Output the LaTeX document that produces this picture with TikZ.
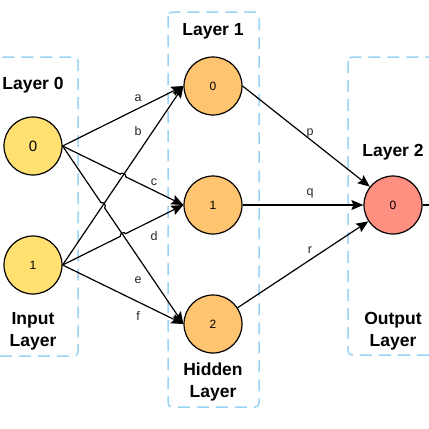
\documentclass[tikz,border=0pt]{standalone}
\usepackage{fontspec}
\setmainfont{Liberation Sans}
\usetikzlibrary{calc,arrows.meta,intersections}
\definecolor{inputfill}{HTML}{FFE070}
\definecolor{hiddenfill}{HTML}{FFC470}
\definecolor{outputfill}{HTML}{FF8F80}
\definecolor{boxblue}{HTML}{99D3F5}
\tikzset{
      neuron/.style={circle, draw=black, line width=1.2pt, minimum size=58pt, inner sep=0pt,
                  font=\fontsize{12}{14}\selectfont},
      layerbox/.style={draw=boxblue, line width=1.5pt, dash pattern=on 12pt off 7pt, rounded corners=4pt},
      layertitle/.style={font=\fontsize{17.5}{22}\selectfont\bfseries, align=center},
      conn/.style={line width=1.2pt, -{Stealth[length=12pt,width=10pt,inset=2pt]}},
      wlabel/.style={font=\fontsize{12.5}{14}\selectfont, text=black!85},
      hop/.style={bend left=90, looseness=1.2}
}

\begin{document}
\begin{tikzpicture}[x=1pt, y=-1pt]
                  \useasboundingbox (0, 0) rectangle (429, 429);
                  \clip (0, 0) rectangle (429, 429);
                  % dashed boxes round the layers
                  \draw [layerbox] (-30, 57) rectangle (78, 356);
                  \draw [layerbox] (168, 12) rectangle (259, 407);
                  \draw [layerbox] (348, 57) rectangle (470, 355);
                  % titles
                  \node (t0) at (33, 85) [layertitle] {Layer 0};
                  \node (n0) at (33, 331) [layertitle] {Input\\Layer};
                  \node (t1) at (213, 31) [layertitle] {Layer 1};
                  \node (n1) at (213, 382) [layertitle] {Hidden\\Layer};
                  \node (t2) at (393, 152) [layertitle] {Layer 2};
                  \node (n2) at (393, 331) [layertitle] {Output\\Layer};
                  % neurons
                  \node (in0) at (33, 146) [neuron, fill=inputfill, font=\fontsize{15}{18}\selectfont] {0};
                  \node (in1) at (33, 265) [neuron, fill=inputfill] {1};
                  \node (hid0) at (213, 86) [neuron, fill=hiddenfill] {0};
                  \node (hid1) at (213, 205) [neuron, fill=hiddenfill] {1};
                  \node (hid2) at (213, 324) [neuron, fill=hiddenfill] {2};
                  \node (out) at (393, 205) [neuron, fill=outputfill] {0};
                  \coordinate (outend) at (440, 205);
                  % paths used for the line hops
                  \path [name path=pb] (in1.east) -- (hid0.west);
                  \path [name path=pc] (in0.east) -- (hid1.west);
                  \path [name path=pe] (in0.east) -- (hid2.west);
                  \path [name path=pd] (in1.east) -- (hid1.west);
                  \path [name intersections={of=pb and pc, by=xbc}];
                  \path [name intersections={of=pb and pe, by=xbe}];
                  \path [name intersections={of=pe and pd, by=xde}];
                  % input to hidden
                  \draw [conn] (in0.east) -- (hid0.west);
                  \draw [conn] (in1.east) -- (hid0.west);
                  \draw [conn] (in0.east) -- ($(xbc)!3pt!(in0.east)$) to[hop] ($(xbc)!3pt!(hid1.west)$) -- (hid1.west);
                  \draw [conn] (in0.east) -- ($(xbe)!3pt!(in0.east)$) to[hop] ($(xbe)!3pt!(hid2.west)$) -- (hid2.west);
                  \draw [conn] (in1.east) -- ($(xde)!3pt!(in1.east)$) to[hop] ($(xde)!3pt!(hid1.west)$) -- (hid1.west);
                  \draw [conn] (in1.east) -- (hid2.west);
                  % hidden to output
                  \draw [conn] (hid0.east) -- (out);
                  \draw [conn] (hid1.east) -- (out.west);
                  \draw [conn] (hid2) -- (out);
                  \draw [line width=1.2pt] (out.east) -- (outend);
                  % weights
                  \node (wa) at (138, 98) [wlabel] {a};
                  \node (wb) at (138, 131) [wlabel] {b};
                  \node (wc) at (154, 182) [wlabel] {c};
                  \node (wd) at (154, 236) [wlabel] {d};
                  \node (we) at (138, 280) [wlabel] {e};
                  \node (wf) at (138, 316) [wlabel] {f};
                  \node (wp) at (310, 133) [wlabel] {p};
                  \node (wq) at (310, 193) [wlabel] {q};
                  \node (wr) at (310, 250) [wlabel] {r};
\end{tikzpicture}
\end{document}
